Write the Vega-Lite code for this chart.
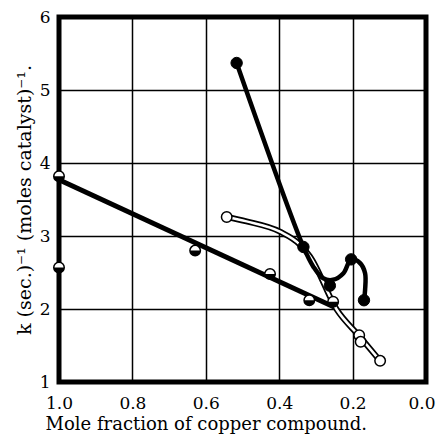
{
  "$schema": "https://vega.github.io/schema/vega-lite/v6.json",
  "width": 367,
  "height": 365,
  "autosize": {"type": "none"},
  "padding": {"left": 59, "top": 17, "right": 11, "bottom": 58},
  "background": "white",
  "config": {
    "view": {"stroke": "black", "strokeWidth": 5},
    "font": "DejaVu Serif",
    "axis": {
      "grid": true, "gridColor": "black", "gridOpacity": 1, "gridWidth": 1.5,
      "domain": false, "ticks": false, "labelFlush": false, "labelOverlap": false,
      "labelFontSize": 17, "labelColor": "black", "labelFont": "DejaVu Serif",
      "titleFontSize": 18, "titleColor": "black", "titleFontWeight": "normal", "titleFont": "DejaVu Serif"
    }
  },
  "datasets": {
    "fitline": [
      {"x": 1.0, "y": 3.77},
      {"x": 0.243, "y": 2.01}
    ],
    "openline": [
      {"x": 0.543, "y": 3.26},
      {"x": 0.489, "y": 3.2},
      {"x": 0.398, "y": 3.06},
      {"x": 0.343, "y": 2.88},
      {"x": 0.316, "y": 2.72},
      {"x": 0.243, "y": 1.99},
      {"x": 0.18, "y": 1.62},
      {"x": 0.125, "y": 1.29}
    ],
    "blackline": [
      {"o": 1, "x": 0.516, "y": 5.37},
      {"o": 2, "x": 0.334, "y": 2.85},
      {"o": 3, "x": 0.307, "y": 2.58},
      {"o": 4, "x": 0.28, "y": 2.42},
      {"o": 5, "x": 0.253, "y": 2.4},
      {"o": 6, "x": 0.225, "y": 2.49},
      {"o": 7, "x": 0.204, "y": 2.68},
      {"o": 8, "x": 0.18, "y": 2.63},
      {"o": 9, "x": 0.166, "y": 2.49},
      {"o": 10, "x": 0.166, "y": 2.26},
      {"o": 11, "x": 0.169, "y": 2.12}
    ],
    "filled": [
      {"x": 0.516, "y": 5.37},
      {"x": 0.334, "y": 2.85},
      {"x": 0.262, "y": 2.32},
      {"x": 0.204, "y": 2.68},
      {"x": 0.169, "y": 2.12}
    ],
    "open": [
      {"x": 0.543, "y": 3.26},
      {"x": 0.182, "y": 1.64},
      {"x": 0.178, "y": 1.55},
      {"x": 0.125, "y": 1.29}
    ],
    "half": [
      {"x": 1.0, "y": 3.82},
      {"x": 1.0, "y": 2.57},
      {"x": 0.629, "y": 2.8},
      {"x": 0.425, "y": 2.48},
      {"x": 0.318, "y": 2.12},
      {"x": 0.253, "y": 2.1}
    ]
  },
  "layer": [
    {
      "data": {"name": "fitline"},
      "mark": {"type": "line", "color": "black", "strokeWidth": 5, "clip": true},
      "encoding": {
        "x": {"field": "x", "type": "quantitative",
          "scale": {"domain": [0, 1], "reverse": true, "nice": false},
          "axis": {"values": [1, 0.8, 0.6, 0.4, 0.2, 0], "format": ".1f", "labelPadding": 13,
            "labelAlign": {"expr": "datum.value == 0 ? 'right' : 'center'"},
            "labelOffset": {"expr": "datum.value == 0 ? 9 : 0"},
            "title": "Mole fraction of copper compound.", "titlePadding": 4,
            "titleX": -14, "titleAlign": "left", "titleAnchor": null}},
        "y": {"field": "y", "type": "quantitative",
          "scale": {"domain": [1, 6], "nice": false, "zero": false},
          "axis": {"values": [1, 2, 3, 4, 5, 6], "format": "d", "labelPadding": 9,
            "title": "k (sec.)⁻¹ (moles catalyst)⁻¹.", "titlePadding": 5, "titleFontSize": 19}}
      }
    },
    {
      "data": {"name": "openline"},
      "mark": {"type": "line", "color": "black", "strokeWidth": 6, "interpolate": "monotone"},
      "encoding": {
        "x": {"field": "x", "type": "quantitative"},
        "y": {"field": "y", "type": "quantitative"}
      }
    },
    {
      "data": {"name": "openline"},
      "mark": {"type": "line", "color": "white", "strokeWidth": 2.5, "interpolate": "monotone"},
      "encoding": {
        "x": {"field": "x", "type": "quantitative"},
        "y": {"field": "y", "type": "quantitative"}
      }
    },
    {
      "data": {"name": "blackline"},
      "mark": {"type": "line", "color": "black", "strokeWidth": 4.5, "interpolate": "catmull-rom"},
      "encoding": {
        "x": {"field": "x", "type": "quantitative"},
        "y": {"field": "y", "type": "quantitative"},
        "order": {"field": "o", "type": "quantitative"}
      }
    },
    {
      "data": {"name": "open"},
      "mark": {"type": "point", "shape": "circle", "filled": true, "fill": "white", "stroke": "black", "strokeWidth": 1.5, "size": 110, "opacity": 1},
      "encoding": {
        "x": {"field": "x", "type": "quantitative"},
        "y": {"field": "y", "type": "quantitative"}
      }
    },
    {
      "data": {"name": "half"},
      "mark": {"type": "point", "shape": "circle", "filled": true, "fill": "white", "stroke": "black", "strokeWidth": 1.5, "size": 110, "opacity": 1},
      "encoding": {
        "x": {"field": "x", "type": "quantitative"},
        "y": {"field": "y", "type": "quantitative"}
      }
    },
    {
      "data": {"name": "half"},
      "mark": {"type": "point", "shape": "M-1,0A1,1,0,0,0,1,0Z", "filled": true, "fill": "black", "strokeWidth": 0, "size": 110, "opacity": 1},
      "encoding": {
        "x": {"field": "x", "type": "quantitative"},
        "y": {"field": "y", "type": "quantitative"}
      }
    },
    {
      "data": {"name": "filled"},
      "mark": {"type": "point", "shape": "circle", "filled": true, "fill": "black", "stroke": "black", "strokeWidth": 1, "size": 130, "opacity": 1},
      "encoding": {
        "x": {"field": "x", "type": "quantitative"},
        "y": {"field": "y", "type": "quantitative"}
      }
    }
  ]
}
